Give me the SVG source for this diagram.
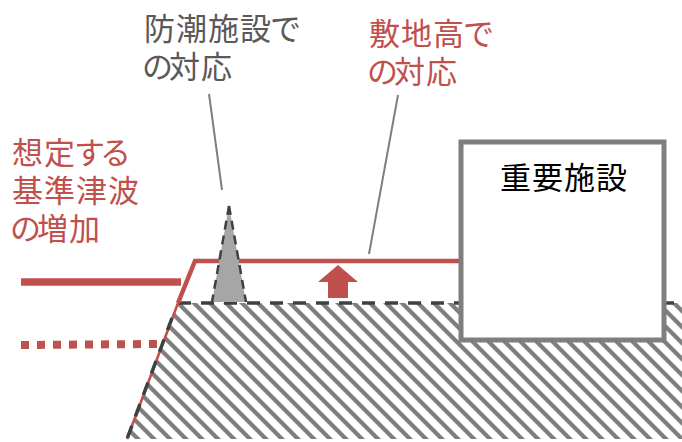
<svg xmlns="http://www.w3.org/2000/svg" width="682" height="442" viewBox="0 0 682 442">
<style>
text{font-family:"Noto Sans CJK JP","Noto Sans",sans-serif;font-size:31px}
.red{fill:#c0504d}
.gray{fill:#595959}
.dash{fill:none;stroke:#404040;stroke-width:3.5;stroke-dasharray:13 10}
.wall{fill:none;stroke:#404040;stroke-width:2.5;stroke-dasharray:9 6}
</style>
<defs>
<pattern id="hatch" patternUnits="userSpaceOnUse" width="16" height="16" patternTransform="skewX(45)">
<rect width="16" height="16" fill="#fff"/>
<rect x="0" y="0" width="6" height="16" fill="#7f7f7f"/>
</pattern>
</defs>
<g id="ground">
<polygon points="178,303 682,303 682,439 126,439" fill="url(#hatch)"/>
<line x1="178" y1="303" x2="682" y2="303" class="dash"/>
<line x1="178" y1="303" x2="127" y2="439" stroke="#c0504d" stroke-width="2.5"/>
<line x1="172" y1="318" x2="127" y2="439" class="dash"/>
</g>
<g id="levels">
<polyline points="178,303 195,261 460,261" fill="none" stroke="#c0504d" stroke-width="4.5"/>
<line x1="21" y1="282" x2="181" y2="282" stroke="#c0504d" stroke-width="7.5"/>
<line x1="21" y1="345" x2="157" y2="344" stroke="#c0504d" stroke-width="8" stroke-dasharray="8 8"/>
<polygon points="338,265 358,282 348,282 348,298 328,298 328,282 318,282" fill="#c0504d"/>
</g>
<g id="seawall">
<polygon points="229,206 212,302 246,302" fill="#a6a6a6"/>
<line x1="229" y1="206" x2="212" y2="302" class="wall"/>
<line x1="229" y1="206" x2="246" y2="302" class="wall"/>
</g>
<g id="facility">
<rect x="461" y="142" width="203" height="198" fill="#fff" stroke="#7f7f7f" stroke-width="5"/>
<text x="500 532 564 596" y="189" fill="#000">重要施設</text>
</g>
<g id="leaders">
<line x1="209" y1="94" x2="222" y2="190" stroke="#7f7f7f" stroke-width="2"/>
<line x1="398" y1="95" x2="369" y2="254" stroke="#7f7f7f" stroke-width="2"/>
</g>
<g id="label-seawall">
<text class="gray"><tspan x="144 176 208 240 270" y="40">防潮施設で</tspan><tspan x="142 169 201" y="78">の対応</tspan></text>
</g>
<g id="label-height">
<text class="red"><tspan x="369 401 433 463" y="45">敷地高で</tspan><tspan x="367 394 426" y="83">の対応</tspan></text>
</g>
<g id="label-tsunami">
<text class="red"><tspan x="12 44 74 100" y="164">想定する</tspan><tspan x="12 44 76 108" y="202">基準津波</tspan><tspan x="10 37 69" y="240">の増加</tspan></text>
</g>
</svg>
